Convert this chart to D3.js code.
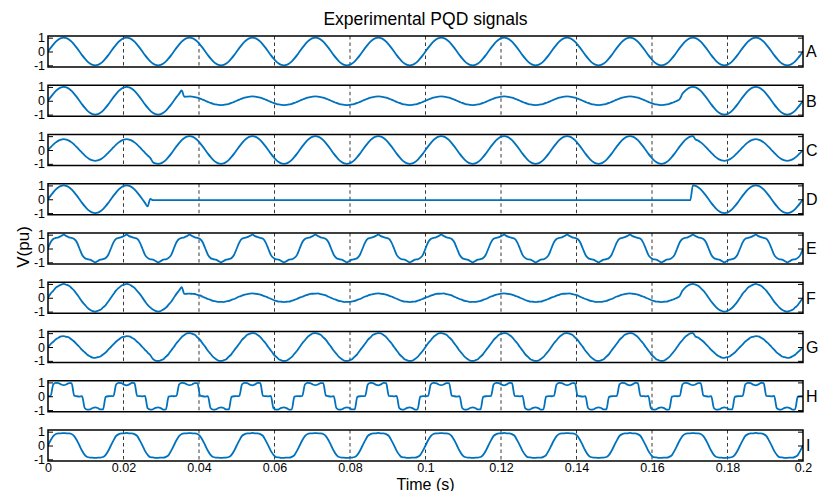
<!DOCTYPE html>
<html>
<head>
<meta charset="utf-8">
<script src="https://cdn.jsdelivr.net/npm/d3@7"></script>
<style>
body { margin: 0; background: #fff; }
svg text { font-family: "Liberation Sans", Arial, Helvetica, sans-serif; fill: #000; }
</style>
</head>
<body>
<svg id="chart" width="818" height="491"></svg>
<script>
// GLOBALS
var w = 818, h = 491;
var sampleStep = 1 / 1440; // 24 samples per 60 Hz cycle, 0 .. 0.2 s

var panelNames = ["A", "B", "C", "D", "E", "F", "G", "H", "I"];
var xTicks = [0, 0.02, 0.04, 0.06, 0.08, 0.1, 0.12, 0.14, 0.16, 0.18, 0.2];
var gridTimes = [0.02, 0.04, 0.06, 0.08, 0.1, 0.12, 0.14, 0.16, 0.18];
var yTicks = [-1, 0, 1];

// pure sine
var sigA = [
0,.26,.5,.71,.87,.97,1,.97,.87,.71,.5,.26,0,-.26,-.5,-.71,-.87,-.97,-1,-.97,-.87,-.71,-.5,-.26,
0,.26,.5,.71,.87,.97,1,.97,.87,.71,.5,.26,0,-.26,-.5,-.71,-.87,-.97,-1,-.97,-.87,-.71,-.5,-.26,
0,.26,.5,.71,.87,.97,1,.97,.87,.71,.5,.26,0,-.26,-.5,-.71,-.87,-.97,-1,-.97,-.87,-.71,-.5,-.26,
0,.26,.5,.71,.87,.97,1,.97,.87,.71,.5,.26,0,-.26,-.5,-.71,-.87,-.97,-1,-.97,-.87,-.71,-.5,-.26,
0,.26,.5,.71,.87,.97,1,.97,.87,.71,.5,.26,0,-.26,-.5,-.71,-.87,-.97,-1,-.97,-.87,-.71,-.5,-.26,
0,.26,.5,.71,.87,.97,1,.97,.87,.71,.5,.26,0,-.26,-.5,-.71,-.87,-.97,-1,-.97,-.87,-.71,-.5,-.26,
0,.26,.5,.71,.87,.97,1,.97,.87,.71,.5,.26,0,-.26,-.5,-.71,-.87,-.97,-1,-.97,-.87,-.71,-.5,-.26,
0,.26,.5,.71,.87,.97,1,.97,.87,.71,.5,.26,0,-.26,-.5,-.71,-.87,-.97,-1,-.97,-.87,-.71,-.5,-.26,
0,.26,.5,.71,.87,.97,1,.97,.87,.71,.5,.26,0,-.26,-.5,-.71,-.87,-.97,-1,-.97,-.87,-.71,-.5,-.26,
0,.26,.5,.71,.87,.97,1,.97,.87,.71,.5,.26,0,-.26,-.5,-.71,-.87,-.97,-1,-.97,-.87,-.71,-.5,-.26,
0,.26,.5,.71,.87,.97,1,.97,.87,.71,.5,.26,0,-.26,-.5,-.71,-.87,-.97,-1,-.97,-.87,-.71,-.5,-.26,
0,.26,.5,.71,.87,.97,1,.97,.87,.71,.5,.26,0,-.26,-.5,-.71,-.87,-.97,-1,-.97,-.87,-.71,-.5,-.26,
0];

// sag
var sigB = [
0,.26,.5,.71,.87,.97,1,.97,.87,.71,.5,.26,0,-.26,-.5,-.71,-.87,-.97,-1,-.97,-.87,-.71,-.5,-.26,
0,.26,.5,.71,.87,.97,1,.97,.87,.71,.5,.26,0,-.26,-.5,-.71,-.87,-.97,-1,-.97,-.87,-.71,-.5,-.26,
0,.26,.5,.74,.29,.3,.31,.3,.27,.22,.16,.08,0,-.08,-.16,-.22,-.27,-.3,-.31,-.3,-.27,-.22,-.16,-.08,
0,.08,.16,.22,.27,.3,.31,.3,.27,.22,.16,.08,0,-.08,-.16,-.22,-.27,-.3,-.31,-.3,-.27,-.22,-.16,-.08,
0,.08,.16,.22,.27,.3,.31,.3,.27,.22,.16,.08,0,-.08,-.16,-.22,-.27,-.3,-.31,-.3,-.27,-.22,-.16,-.08,
0,.08,.16,.22,.27,.3,.31,.3,.27,.22,.16,.08,0,-.08,-.16,-.22,-.27,-.3,-.31,-.3,-.27,-.22,-.16,-.08,
0,.08,.16,.22,.27,.3,.31,.3,.27,.22,.16,.08,0,-.08,-.16,-.22,-.27,-.3,-.31,-.3,-.27,-.22,-.16,-.08,
0,.08,.16,.22,.27,.3,.31,.3,.27,.22,.16,.08,0,-.08,-.16,-.22,-.27,-.3,-.31,-.3,-.27,-.22,-.16,-.08,
0,.08,.16,.22,.27,.3,.31,.3,.27,.22,.16,.08,0,-.08,-.16,-.22,-.27,-.3,-.31,-.3,-.27,-.22,-.16,-.08,
0,.08,.16,.22,.27,.3,.31,.3,.27,.22,.16,.08,0,-.08,-.16,-.22,-.27,-.3,-.31,-.3,-.27,-.22,-.16,-.08,
0,.13,.5,.71,.87,.97,1,.97,.87,.71,.5,.26,0,-.26,-.5,-.71,-.87,-.97,-1,-.97,-.87,-.71,-.5,-.26,
0,.26,.5,.71,.87,.97,1,.97,.87,.71,.5,.26,0,-.26,-.5,-.71,-.87,-.97,-1,-.97,-.87,-.71,-.5,-.26,
0];

// swell
var sigC = [
0,.2,.39,.55,.68,.75,.78,.75,.68,.55,.39,.2,0,-.2,-.39,-.55,-.68,-.75,-.78,-.75,-.68,-.55,-.39,-.2,
0,.2,.39,.55,.68,.75,.78,.75,.68,.55,.39,.2,0,-.2,-.39,-.57,-.87,-.97,-1,-.97,-.87,-.71,-.5,-.26,
0,.26,.5,.71,.87,.97,1,.97,.87,.71,.5,.26,0,-.26,-.5,-.71,-.87,-.97,-1,-.97,-.87,-.71,-.5,-.26,
0,.26,.5,.71,.87,.97,1,.97,.87,.71,.5,.26,0,-.26,-.5,-.71,-.87,-.97,-1,-.97,-.87,-.71,-.5,-.26,
0,.26,.5,.71,.87,.97,1,.97,.87,.71,.5,.26,0,-.26,-.5,-.71,-.87,-.97,-1,-.97,-.87,-.71,-.5,-.26,
0,.26,.5,.71,.87,.97,1,.97,.87,.71,.5,.26,0,-.26,-.5,-.71,-.87,-.97,-1,-.97,-.87,-.71,-.5,-.26,
0,.26,.5,.71,.87,.97,1,.97,.87,.71,.5,.26,0,-.26,-.5,-.71,-.87,-.97,-1,-.97,-.87,-.71,-.5,-.26,
0,.26,.5,.71,.87,.97,1,.97,.87,.71,.5,.26,0,-.26,-.5,-.71,-.87,-.97,-1,-.97,-.87,-.71,-.5,-.26,
0,.26,.5,.71,.87,.97,1,.97,.87,.71,.5,.26,0,-.26,-.5,-.71,-.87,-.97,-1,-.97,-.87,-.71,-.5,-.26,
0,.26,.5,.71,.87,.97,1,.97,.87,.71,.5,.26,0,-.26,-.5,-.71,-.87,-.97,-1,-.97,-.87,-.71,-.5,-.26,
0,.26,.5,.71,.87,.97,1,.76,.68,.55,.39,.2,0,-.2,-.39,-.55,-.68,-.75,-.78,-.75,-.68,-.55,-.39,-.2,
0,.2,.39,.55,.68,.75,.78,.75,.68,.55,.39,.2,0,-.2,-.39,-.55,-.68,-.75,-.78,-.75,-.68,-.55,-.39,-.2,
0];

// interruption
var sigD = [
0,.26,.5,.71,.87,.97,1,.97,.87,.71,.5,.26,0,-.26,-.5,-.71,-.87,-.97,-1,-.97,-.87,-.71,-.5,-.26,
0,.26,.5,.71,.87,.97,1,.97,.87,.71,.5,.26,0,-.26,-.52,.03,-.07,-.07,-.07,-.07,-.07,-.07,-.07,-.07,
-.07,-.07,-.07,-.07,-.07,-.07,-.07,-.07,-.07,-.07,-.07,-.07,-.07,-.07,-.07,-.07,-.07,-.07,-.07,-.07,-.07,-.07,-.07,-.07,
-.07,-.07,-.07,-.07,-.07,-.07,-.07,-.07,-.07,-.07,-.07,-.07,-.07,-.07,-.07,-.07,-.07,-.07,-.07,-.07,-.07,-.07,-.07,-.07,
-.07,-.07,-.07,-.07,-.07,-.07,-.07,-.07,-.07,-.07,-.07,-.07,-.07,-.07,-.07,-.07,-.07,-.07,-.07,-.07,-.07,-.07,-.07,-.07,
-.07,-.07,-.07,-.07,-.07,-.07,-.07,-.07,-.07,-.07,-.07,-.07,-.07,-.07,-.07,-.07,-.07,-.07,-.07,-.07,-.07,-.07,-.07,-.07,
-.07,-.07,-.07,-.07,-.07,-.07,-.07,-.07,-.07,-.07,-.07,-.07,-.07,-.07,-.07,-.07,-.07,-.07,-.07,-.07,-.07,-.07,-.07,-.07,
-.07,-.07,-.07,-.07,-.07,-.07,-.07,-.07,-.07,-.07,-.07,-.07,-.07,-.07,-.07,-.07,-.07,-.07,-.07,-.07,-.07,-.07,-.07,-.07,
-.07,-.07,-.07,-.07,-.07,-.07,-.07,-.07,-.07,-.07,-.07,-.07,-.07,-.07,-.07,-.07,-.07,-.07,-.07,-.07,-.07,-.07,-.07,-.07,
-.07,-.07,-.07,-.07,-.07,-.07,-.07,-.07,-.07,-.07,-.07,-.07,-.07,-.07,-.07,-.07,-.07,-.07,-.07,-.07,-.07,-.07,-.07,-.07,
-.07,-.07,-.07,-.07,-.07,-.07,1,.97,.87,.71,.5,.26,0,-.26,-.5,-.71,-.87,-.97,-1,-.97,-.87,-.71,-.5,-.26,
0,.26,.5,.71,.87,.97,1,.97,.87,.71,.5,.26,0,-.26,-.5,-.71,-.87,-.97,-1,-.97,-.87,-.71,-.5,-.26,
0];

// harmonics
var sigE = [
0,.45,.69,.77,.81,.9,1,.9,.81,.77,.69,.45,0,-.45,-.69,-.77,-.81,-.9,-1,-.9,-.81,-.77,-.69,-.45,
0,.44,.7,.76,.82,.91,1,.89,.82,.76,.7,.44,0,-.46,-.68,-.78,-.8,-.9,-1,-.91,-.8,-.78,-.68,-.46,
0,.45,.69,.77,.81,.9,1,.9,.81,.77,.69,.45,0,-.45,-.69,-.77,-.81,-.9,-1,-.9,-.81,-.77,-.69,-.45,
0,.44,.7,.76,.82,.91,1,.89,.82,.76,.7,.44,0,-.46,-.68,-.78,-.8,-.9,-1,-.91,-.8,-.78,-.68,-.46,
0,.45,.69,.77,.81,.9,1,.9,.81,.77,.69,.45,0,-.45,-.69,-.77,-.81,-.9,-1,-.9,-.81,-.77,-.69,-.45,
0,.44,.7,.76,.82,.91,1,.89,.82,.76,.7,.44,0,-.46,-.68,-.78,-.8,-.9,-1,-.91,-.8,-.78,-.68,-.46,
0,.45,.69,.77,.81,.9,1,.9,.81,.77,.69,.45,0,-.45,-.69,-.77,-.81,-.9,-1,-.9,-.81,-.77,-.69,-.45,
0,.44,.7,.76,.82,.91,1,.89,.82,.76,.7,.44,0,-.46,-.68,-.78,-.8,-.9,-1,-.91,-.8,-.78,-.68,-.46,
0,.45,.69,.77,.81,.9,1,.9,.81,.77,.69,.45,0,-.45,-.69,-.77,-.81,-.9,-1,-.9,-.81,-.77,-.69,-.45,
0,.44,.7,.76,.82,.91,1,.89,.82,.76,.7,.44,0,-.46,-.68,-.78,-.8,-.9,-1,-.91,-.8,-.78,-.68,-.46,
0,.45,.69,.77,.81,.9,1,.9,.81,.77,.69,.45,0,-.45,-.69,-.77,-.81,-.9,-1,-.9,-.81,-.77,-.69,-.45,
0,.44,.7,.76,.82,.91,1,.89,.82,.76,.7,.44,0,-.46,-.68,-.78,-.8,-.9,-1,-.91,-.8,-.78,-.68,-.46,
0];

// sag with noise
var sigF = [
0,.3,.5,.73,.85,.95,1,.94,.86,.7,.52,.26,0,-.28,-.5,-.71,-.86,-.96,-1,-.94,-.87,-.7,-.53,-.27,
0,.27,.53,.71,.87,.94,1,.96,.84,.71,.49,.28,.01,-.26,-.51,-.7,-.85,-.95,-1,-.96,-.85,-.72,-.5,-.29,
0,.28,.52,.76,.28,.29,.3,.28,.27,.21,.17,.07,0,-.09,-.15,-.23,-.26,-.3,-.3,-.31,-.26,-.23,-.15,-.09,
0,.09,.15,.23,.26,.3,.31,.29,.27,.23,.15,.09,0,-.07,-.16,-.22,-.28,-.29,-.31,-.29,-.28,-.21,-.16,-.08,
.01,.07,.16,.21,.28,.29,.3,.31,.26,.22,.17,.07,-.01,-.09,-.15,-.23,-.26,-.31,-.3,-.3,-.27,-.23,-.15,-.09,
0,.09,.15,.23,.26,.3,.31,.29,.27,.23,.15,.09,0,-.07,-.16,-.22,-.28,-.29,-.31,-.29,-.28,-.21,-.16,-.08,
.01,.07,.16,.21,.28,.29,.3,.31,.26,.22,.17,.07,-.01,-.09,-.15,-.23,-.26,-.31,-.3,-.3,-.27,-.23,-.15,-.09,
0,.09,.15,.23,.26,.3,.31,.29,.27,.23,.15,.09,0,-.07,-.16,-.22,-.28,-.29,-.31,-.29,-.28,-.21,-.16,-.08,
.01,.07,.16,.21,.28,.29,.3,.31,.26,.22,.17,.07,-.01,-.09,-.15,-.23,-.26,-.31,-.3,-.3,-.27,-.23,-.15,-.09,
0,.09,.15,.23,.26,.3,.31,.29,.27,.23,.15,.09,0,-.07,-.16,-.22,-.28,-.29,-.31,-.29,-.28,-.21,-.16,-.08,
0,.13,.5,.72,.86,.96,1,.95,.86,.7,.51,.27,0,-.27,-.5,-.71,-.86,-.95,-1,-.95,-.86,-.72,-.52,-.28,
0,.3,.5,.73,.85,.95,1,.94,.86,.7,.52,.26,0,-.28,-.5,-.71,-.86,-.96,-1,-.94,-.87,-.7,-.53,-.27,
0];

// swell with noise
var sigG = [
0,.21,.38,.56,.67,.76,.78,.74,.69,.54,.4,.19,0,-.21,-.38,-.56,-.67,-.76,-.78,-.74,-.69,-.54,-.4,-.19,
0,.2,.4,.54,.69,.74,.78,.76,.67,.56,.38,.21,0,-.2,-.4,-.58,-.86,-.98,-1,-.96,-.88,-.7,-.51,-.25,
0,.27,.49,.72,.86,.98,1,.96,.88,.7,.51,.25,.01,-.27,-.49,-.72,-.86,-.98,-1,-.96,-.88,-.7,-.51,-.25,
0,.25,.51,.7,.88,.96,1,.98,.86,.72,.49,.27,0,-.25,-.51,-.7,-.88,-.96,-1,-.98,-.86,-.72,-.49,-.27,
0,.27,.49,.72,.86,.98,1,.96,.88,.7,.51,.25,.01,-.27,-.49,-.72,-.86,-.98,-1,-.96,-.88,-.7,-.51,-.25,
0,.25,.51,.7,.88,.96,1,.98,.86,.72,.49,.27,0,-.25,-.51,-.7,-.88,-.96,-1,-.98,-.86,-.72,-.49,-.27,
0,.27,.49,.72,.86,.98,1,.96,.88,.7,.51,.25,.01,-.27,-.49,-.72,-.86,-.98,-1,-.96,-.88,-.7,-.51,-.25,
0,.25,.51,.7,.88,.96,1,.98,.86,.72,.49,.27,0,-.25,-.51,-.7,-.88,-.96,-1,-.98,-.86,-.72,-.49,-.27,
0,.27,.49,.72,.86,.98,1,.96,.88,.7,.51,.25,.01,-.27,-.49,-.72,-.86,-.98,-1,-.96,-.88,-.7,-.51,-.25,
0,.25,.51,.7,.88,.96,1,.98,.86,.72,.49,.27,0,-.25,-.51,-.7,-.88,-.96,-1,-.98,-.86,-.72,-.49,-.27,
0,.27,.49,.72,.86,.98,1,.75,.69,.54,.4,.19,0,-.21,-.38,-.56,-.67,-.76,-.78,-.74,-.69,-.54,-.4,-.19,
0,.19,.4,.54,.69,.74,.78,.76,.67,.56,.38,.21,0,-.19,-.4,-.54,-.69,-.74,-.78,-.76,-.67,-.56,-.38,-.21,
0];

// notching / stepped wave
var sigH = [
0,.02,.85,.97,.95,.85,.8,.85,.95,.95,.04,0,-.02,0,-.85,-.97,-.95,-.85,-.8,-.85,-.95,-.95,-.04,0,
.01,.03,.86,.96,.94,.84,.79,.86,.96,.94,.03,.01,-.01,.02,-.86,-.96,-.94,-.84,-.81,-.86,-.96,-.94,-.03,.01,
0,.02,.85,.97,.95,.85,.8,.85,.95,.95,.04,0,-.02,0,-.85,-.97,-.95,-.85,-.8,-.85,-.95,-.95,-.04,0,
.01,.03,.86,.96,.94,.84,.79,.86,.96,.94,.03,.01,-.01,.02,-.86,-.96,-.94,-.84,-.81,-.86,-.96,-.94,-.03,.01,
0,.02,.85,.97,.95,.85,.8,.85,.95,.95,.04,0,-.02,0,-.85,-.97,-.95,-.85,-.8,-.85,-.95,-.95,-.04,0,
.01,.03,.86,.96,.94,.84,.79,.86,.96,.94,.03,.01,-.01,.02,-.86,-.96,-.94,-.84,-.81,-.86,-.96,-.94,-.03,.01,
0,.02,.85,.97,.95,.85,.8,.85,.95,.95,.04,0,-.02,0,-.85,-.97,-.95,-.85,-.8,-.85,-.95,-.95,-.04,0,
.01,.03,.86,.96,.94,.84,.79,.86,.96,.94,.03,.01,-.01,.02,-.86,-.96,-.94,-.84,-.81,-.86,-.96,-.94,-.03,.01,
0,.02,.85,.97,.95,.85,.8,.85,.95,.95,.04,0,-.02,0,-.85,-.97,-.95,-.85,-.8,-.85,-.95,-.95,-.04,0,
.01,.03,.86,.96,.94,.84,.79,.86,.96,.94,.03,.01,-.01,.02,-.86,-.96,-.94,-.84,-.81,-.86,-.96,-.94,-.03,.01,
0,.02,.85,.97,.95,.85,.8,.85,.95,.95,.04,0,-.02,0,-.85,-.97,-.95,-.85,-.8,-.85,-.95,-.95,-.04,0,
.01,.03,.86,.96,.94,.84,.79,.86,.96,.94,.03,.01,-.01,.02,-.86,-.96,-.94,-.84,-.81,-.86,-.96,-.94,-.03,.01,
0];

// flat top
var sigI = [
0,.38,.68,.83,.87,.88,.9,.88,.87,.83,.68,.38,0,-.38,-.68,-.83,-.87,-.88,-.9,-.88,-.87,-.83,-.68,-.38,
0,.37,.69,.82,.88,.87,.91,.87,.88,.82,.69,.37,.01,-.39,-.67,-.84,-.86,-.89,-.9,-.87,-.88,-.82,-.69,-.37,
0,.38,.68,.83,.87,.88,.9,.88,.87,.83,.68,.38,0,-.38,-.68,-.83,-.87,-.88,-.9,-.88,-.87,-.83,-.68,-.38,
0,.37,.69,.82,.88,.87,.91,.87,.88,.82,.69,.37,.01,-.39,-.67,-.84,-.86,-.89,-.9,-.87,-.88,-.82,-.69,-.37,
0,.38,.68,.83,.87,.88,.9,.88,.87,.83,.68,.38,0,-.38,-.68,-.83,-.87,-.88,-.9,-.88,-.87,-.83,-.68,-.38,
0,.37,.69,.82,.88,.87,.91,.87,.88,.82,.69,.37,.01,-.39,-.67,-.84,-.86,-.89,-.9,-.87,-.88,-.82,-.69,-.37,
0,.38,.68,.83,.87,.88,.9,.88,.87,.83,.68,.38,0,-.38,-.68,-.83,-.87,-.88,-.9,-.88,-.87,-.83,-.68,-.38,
0,.37,.69,.82,.88,.87,.91,.87,.88,.82,.69,.37,.01,-.39,-.67,-.84,-.86,-.89,-.9,-.87,-.88,-.82,-.69,-.37,
0,.38,.68,.83,.87,.88,.9,.88,.87,.83,.68,.38,0,-.38,-.68,-.83,-.87,-.88,-.9,-.88,-.87,-.83,-.68,-.38,
0,.37,.69,.82,.88,.87,.91,.87,.88,.82,.69,.37,.01,-.39,-.67,-.84,-.86,-.89,-.9,-.87,-.88,-.82,-.69,-.37,
0,.38,.68,.83,.87,.88,.9,.88,.87,.83,.68,.38,0,-.38,-.68,-.83,-.87,-.88,-.9,-.88,-.87,-.83,-.68,-.38,
0,.37,.69,.82,.88,.87,.91,.87,.88,.82,.69,.37,.01,-.39,-.67,-.84,-.86,-.89,-.9,-.87,-.88,-.82,-.69,-.37,
0];

var signals = [sigA, sigB, sigC, sigD, sigE, sigF, sigG, sigH, sigI];

var panelH = 31;
var fontFam = '"Liberation Sans", Arial, sans-serif';

var svg = d3.select("#chart");

var x = d3.scaleLinear().domain([0, 0.2]).range([48, 803]);
var panelTop = d3.scaleLinear().domain([0, 8]).range([36, 430]);
var y = d3.scaleLinear().domain([-1.12, 1.12]).range([panelH, 0]);

var line = d3.line()
    .x(function(d, i) { return x(i * sampleStep); })
    .y(function(d) { return y(d); })
    .curve(d3.curveMonotoneX);

svg.append("defs").append("clipPath").attr("id", "clip")
  .append("rect").attr("x", x(0)).attr("y", 0)
  .attr("width", x(0.2) - x(0)).attr("height", panelH);

signals.forEach(function(sig, k) {
  var g = svg.append("g").attr("transform", "translate(0," + panelTop(k) + ")");

  // dashed grid
  g.selectAll(".grid").data(gridTimes).enter().append("line")
    .attr("class", "grid")
    .attr("x1", function(d) { return x(d); })
    .attr("x2", function(d) { return x(d); })
    .attr("y1", 0).attr("y2", panelH)
    .attr("stroke", "#222").attr("stroke-width", 0.9)
    .attr("stroke-dasharray", "3.5,3");

  g.append("path")
    .datum(sig)
    .attr("clip-path", "url(#clip)")
    .attr("d", line)
    .attr("fill", "none")
    .attr("stroke", "#0072BD")
    .attr("stroke-width", 1.8)
    .attr("stroke-linejoin", "round");

  var left = g.append("g").attr("transform", "translate(" + x(0) + ",0)")
    .call(d3.axisLeft(y).tickValues(yTicks).tickSize(-5).tickPadding(3)
      .tickFormat(function(d) { return String(d); }));
  left.select(".domain").remove();
  left.attr("font-size", 12.5).attr("font-family", fontFam);
  left.selectAll("line").attr("stroke", "#000");

  var right = g.append("g").attr("transform", "translate(" + x(0.2) + ",0)")
    .call(d3.axisRight(y).tickValues(yTicks).tickSize(-5).tickFormat(""));
  right.select(".domain").remove();
  right.selectAll("line").attr("stroke", "#000");

  g.append("rect")
    .attr("x", x(0)).attr("y", 0)
    .attr("width", x(0.2) - x(0)).attr("height", panelH)
    .attr("fill", "none").attr("stroke", "#000").attr("stroke-width", 1.5);

  g.append("text")
    .attr("x", x(0.2) + 3).attr("y", y(0))
    .attr("dy", "0.36em")
    .attr("font-size", 16)
    .text(panelNames[k]);

  if (k === signals.length - 1) {
    var bottom = g.append("g").attr("transform", "translate(0," + panelH + ")")
      .call(d3.axisBottom(x).tickValues(xTicks).tickSize(0).tickPadding(2)
        .tickFormat(function(d) { return String(d); }));
    bottom.select(".domain").remove();
    bottom.attr("font-size", 12.5).attr("font-family", fontFam);
  }
});

svg.append("text")
  .attr("x", x(0.1)).attr("y", 25)
  .attr("text-anchor", "middle")
  .attr("font-size", 17.5)
  .text("Experimental PQD signals");

svg.append("text")
  .attr("x", x(0.1)).attr("y", 489.5)
  .attr("text-anchor", "middle")
  .attr("font-size", 16)
  .text("Time (s)");

svg.append("text")
  .attr("transform", "translate(29,247) rotate(-90)")
  .attr("text-anchor", "middle")
  .attr("font-size", 17)
  .text("V(pu)");
</script>
</body>
</html>
